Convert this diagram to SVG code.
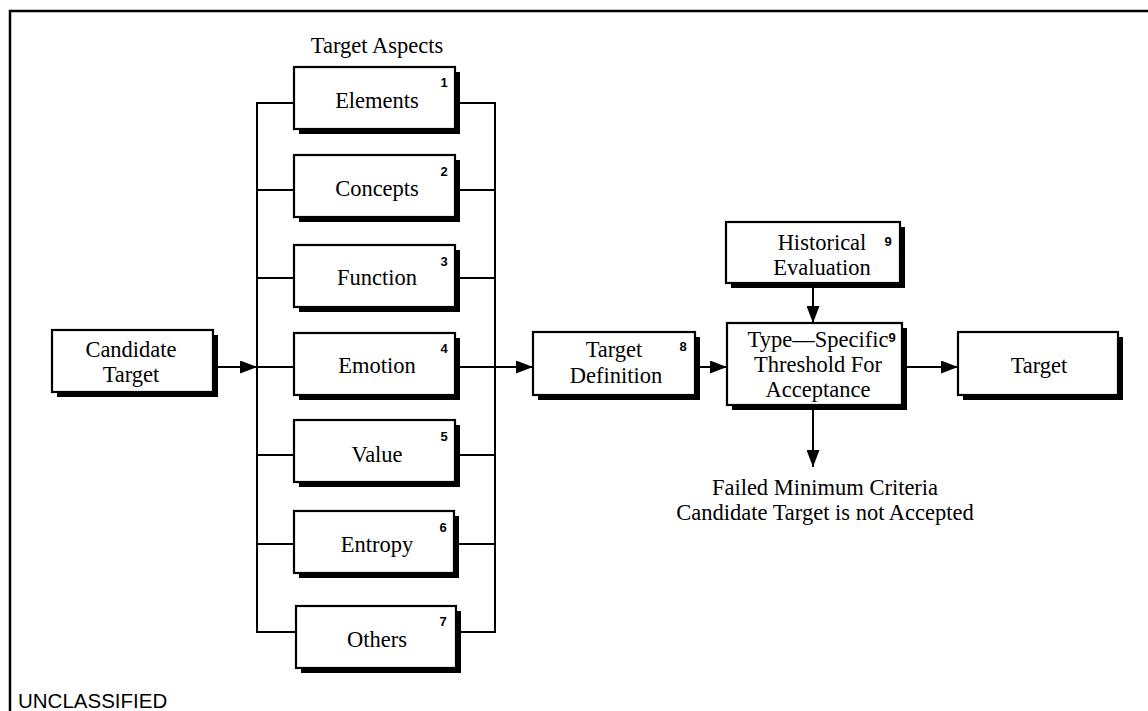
<svg xmlns="http://www.w3.org/2000/svg" width="1148" height="711" viewBox="0 0 1148 711">
<style>
.box{fill:#fff;stroke:#000;stroke-width:2.2}
.sh{fill:#000}
.lbl{font-family:"Liberation Serif","Times New Roman",serif;font-size:22.5px;fill:#000;text-anchor:middle}
.num{font-family:"Liberation Sans",Arial,sans-serif;font-size:13px;font-weight:bold;fill:#000;text-anchor:middle}
.ln{fill:none;stroke:#000;stroke-width:2}
.arr{fill:none;stroke:#000;stroke-width:2;marker-end:url(#ah)}
</style>
<defs>
<marker id="ah" markerUnits="userSpaceOnUse" markerWidth="17" markerHeight="13" refX="17" refY="6.5" orient="auto">
<path d="M0,0 L17,6.5 L0,13 z" fill="#000"/>
</marker>
</defs>
<rect width="1148" height="711" fill="#fff"/>
<g id="frame">
<path d="M10,711 V11 H1148" fill="none" stroke="#000" stroke-width="2.5"/>
<text x="18" y="708" style="font-family:'Liberation Sans',Arial,sans-serif;font-size:20.5px;fill:#000">UNCLASSIFIED</text>
</g>
<text x="377" y="53" class="lbl">Target Aspects</text>
<g id="connectors">
<path class="ln" d="M294,103 H257 V632 H296"/>
<path class="ln" d="M257,190 H294 M257,278 H293 M257,455 H293 M257,544 H293"/>
<path class="ln" d="M455,103 H495 V632 H456"/>
<path class="ln" d="M455,190 H495 M455,278 H495 M455,455 H495 M453,544 H495"/>
<path class="ln" d="M257,367 H293"/>
<path class="arr" d="M218,367 H257"/>
<path class="arr" d="M455,367 H533"/>
<path class="arr" d="M700,367 H727"/>
<path class="arr" d="M813,288 V323"/>
<path class="arr" d="M907,367 H958"/>
<path class="arr" d="M813,410 V467"/>
</g>
<g id="candidate">
<rect class="sh" x="57" y="335" width="161" height="62"/>
<rect class="box" x="52" y="330" width="161" height="62"/>
<text x="131" y="357" class="lbl">Candidate</text>
<text x="131" y="382" class="lbl">Target</text>
</g>
<g id="elements">
<rect class="sh" x="299" y="72" width="161" height="62"/>
<rect class="box" x="294" y="67" width="161" height="62"/>
<text x="377" y="108" class="lbl">Elements</text>
<text x="444" y="87" class="num">1</text>
</g>
<g id="concepts">
<rect class="sh" x="299" y="160" width="161" height="62"/>
<rect class="box" x="294" y="155" width="161" height="62"/>
<text x="377" y="196" class="lbl">Concepts</text>
<text x="444" y="176" class="num">2</text>
</g>
<g id="function">
<rect class="sh" x="299" y="250" width="161" height="62"/>
<rect class="box" x="294" y="245" width="161" height="62"/>
<text x="377" y="285" class="lbl">Function</text>
<text x="444" y="266" class="num">3</text>
</g>
<g id="emotion">
<rect class="sh" x="299" y="338" width="161" height="62"/>
<rect class="box" x="294" y="333" width="161" height="62"/>
<text x="377" y="373" class="lbl">Emotion</text>
<text x="444" y="353" class="num">4</text>
</g>
<g id="value">
<rect class="sh" x="299" y="425" width="161" height="62"/>
<rect class="box" x="294" y="420" width="161" height="62"/>
<text x="377" y="462" class="lbl">Value</text>
<text x="444" y="441" class="num">5</text>
</g>
<g id="entropy">
<rect class="sh" x="299" y="516" width="160" height="62"/>
<rect class="box" x="294" y="511" width="160" height="62"/>
<text x="377" y="552" class="lbl">Entropy</text>
<text x="443" y="532" class="num">6</text>
</g>
<g id="others">
<rect class="sh" x="301" y="611" width="160" height="62"/>
<rect class="box" x="296" y="606" width="160" height="62"/>
<text x="377" y="647" class="lbl">Others</text>
<text x="443" y="626" class="num">7</text>
</g>
<g id="target-definition">
<rect class="sh" x="538" y="337" width="162" height="63"/>
<rect class="box" x="533" y="332" width="162" height="63"/>
<text x="614" y="357" class="lbl">Target</text>
<text x="616" y="383" class="lbl">Definition</text>
<text x="683" y="351" class="num">8</text>
</g>
<g id="historical-evaluation">
<rect class="sh" x="731" y="227" width="174" height="61"/>
<rect class="box" x="726" y="222" width="174" height="61"/>
<text x="822" y="250" class="lbl">Historical</text>
<text x="822" y="275" class="lbl">Evaluation</text>
<text x="888" y="246" class="num">9</text>
</g>
<g id="threshold">
<rect class="sh" x="732" y="328" width="175" height="82"/>
<rect class="box" x="727" y="323" width="175" height="82"/>
<text x="818" y="347" class="lbl">Type—Specific</text>
<text x="892" y="342" class="num">9</text>
<text x="818" y="372" class="lbl">Threshold For</text>
<text x="818" y="397" class="lbl">Acceptance</text>
</g>
<g id="target">
<rect class="sh" x="963" y="337" width="160" height="63"/>
<rect class="box" x="958" y="332" width="160" height="63"/>
<text x="1039" y="373" class="lbl">Target</text>
</g>
<g id="rejected">
<text x="825" y="495" class="lbl">Failed Minimum Criteria</text>
<text x="825" y="520" class="lbl">Candidate Target is not Accepted</text>
</g>
</svg>
